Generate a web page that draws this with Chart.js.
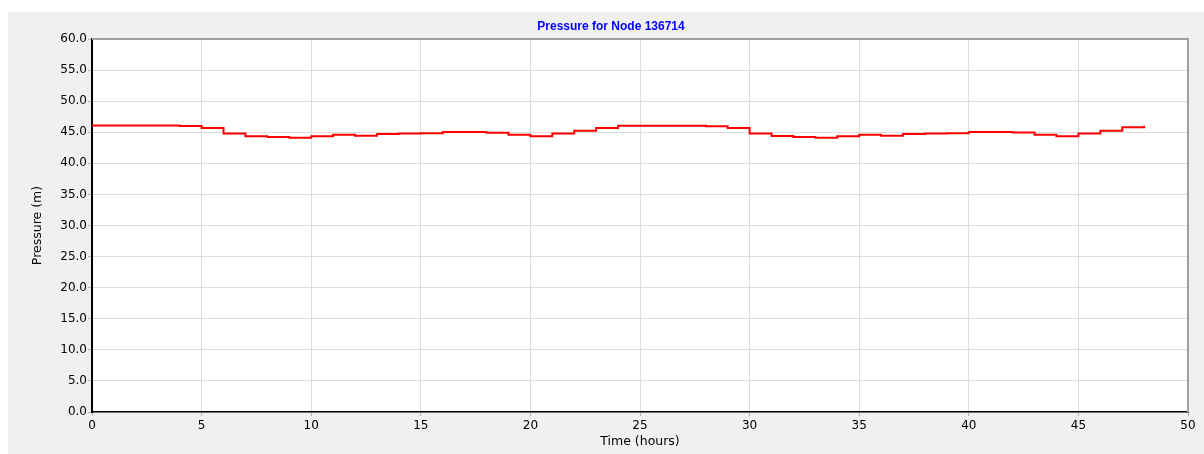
<!DOCTYPE html>
<html><head><meta charset="utf-8">
<script src="https://cdn.jsdelivr.net/npm/chart.js@4/dist/chart.umd.min.js"></script>
<style>html,body{margin:0;padding:0;background:#fff;overflow:hidden}
#wrap{position:absolute;left:0;top:0;width:1204px;height:454px}</style>
</head><body><div id="wrap"><canvas id="c" width="1204" height="454"></canvas></div>
<script>
const chartTitle = 'Pressure for Node 136714';
const xAxisTitle = 'Time (hours)';
const yAxisTitle = 'Pressure (m)';
const hours = [0,1,2,3,4,5,6,7,8,9,10,11,12,13,14,15,16,17,18,19,20,21,22,23,
               24,25,26,27,28,29,30,31,32,33,34,35,36,37,38,39,40,41,42,43,44,45,46,47,48];
const pressure = [46.1,46.1,46.1,46.1,46.0,45.7,44.8,44.35,44.25,44.1,44.35,44.6,44.45,44.7,44.8,44.85,45.05,45.05,44.9,44.6,44.35,44.8,45.25,45.7,
                  46.05,46.05,46.05,46.05,45.95,45.7,44.8,44.4,44.25,44.1,44.35,44.6,44.45,44.7,44.8,44.85,45.05,45.05,44.95,44.6,44.35,44.8,45.25,45.8,46.05];
const xTicks = [0,5,10,15,20,25,30,35,40,45,50];
const yTicks = [0,5,10,15,20,25,30,35,40,45,50,55,60];

const points = hours.map((h, i) => ({x: h, y: pressure[i]}));

const frame = {
  id: 'frame',
  beforeDraw(chart) {
    const {ctx, chartArea: a} = chart;
    ctx.save();
    ctx.fillStyle = '#ffffff';
    ctx.fillRect(0, 0, chart.width, chart.height);
    ctx.fillStyle = '#f0f0f0';
    ctx.fillRect(8, 12, chart.width - 8, chart.height - 12);
    ctx.fillStyle = '#ffffff';
    ctx.fillRect(a.left, a.top, a.right - a.left, a.bottom - a.top);
    ctx.restore();
  },
  afterDraw(chart) {
    const {ctx, chartArea: a} = chart;
    ctx.save();
    ctx.strokeStyle = '#a0a0a0';
    ctx.lineWidth = 2;
    ctx.beginPath();
    ctx.moveTo(a.left, a.top);
    ctx.lineTo(a.right, a.top);
    ctx.lineTo(a.right, a.bottom);
    ctx.stroke();
    ctx.restore();
  }
};

new Chart(document.getElementById('c'), {
  type: 'line',
  data: {
    datasets: [{
      data: points,
      borderColor: '#ff0000',
      borderWidth: 2,
      pointRadius: 0,
      stepped: 'before',
      fill: false
    }]
  },
  options: {
    responsive: false,
    animation: false,
    devicePixelRatio: 1,
    layout: {padding: {left: 34, right: 16, top: 0, bottom: 0}},
    plugins: {
      legend: {display: false},
      tooltip: {enabled: false},
      title: {
        display: true,
        text: chartTitle,
        color: '#0000ff',
        font: {family: 'Liberation Sans', size: 12, weight: 'bold'},
        padding: {top: 19.5, bottom: 5.1}
      }
    },
    scales: {
      x: {
        type: 'linear',
        min: 0, max: 50,
        afterBuildTicks(scale) { scale.ticks = xTicks.map(v => ({value: v})); },
        afterFit(scale) { scale.height = 42; },
        ticks: {color: '#000', font: {family: 'DejaVu Sans', size: 12}, padding: 3, maxRotation: 0},
        grid: {color: '#dcdcdc', lineWidth: 1, tickLength: 4, tickColor: '#b0b0b0'},
        border: {display: true, color: '#000', width: 1.5},
        title: {display: true, text: xAxisTitle, color: '#000',
                font: {family: 'DejaVu Sans', size: 12.5}, padding: {top: 0, bottom: 5}}
      },
      y: {
        type: 'linear',
        min: 0, max: 60,
        afterBuildTicks(scale) { scale.ticks = yTicks.map(v => ({value: v})); },
        afterFit(scale) { scale.width = 58; },
        ticks: {color: '#000', font: {family: 'DejaVu Sans', size: 12}, padding: 1,
                callback: v => Number(v).toFixed(1)},
        grid: {color: '#dcdcdc', lineWidth: 1, tickLength: 4, tickColor: '#b0b0b0'},
        border: {display: true, color: '#000', width: 2},
        title: {display: true, text: yAxisTitle, color: '#000',
                font: {family: 'DejaVu Sans', size: 12.5, lineHeight: 0.6}, padding: {top: 0, bottom: 0}}
      }
    }
  },
  plugins: [frame]
});
</script></body></html>
